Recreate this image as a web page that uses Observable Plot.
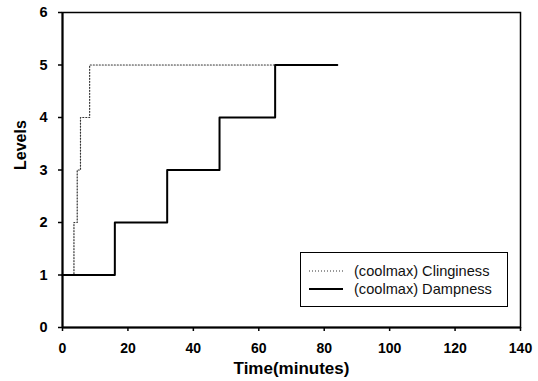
<!DOCTYPE html>
<html><head><meta charset="utf-8">
<script src="https://cdn.jsdelivr.net/npm/d3@7"></script>
<script src="https://cdn.jsdelivr.net/npm/@observablehq/plot@0.6"></script>
<style>
body{margin:0;background:#fff;}
#chart{position:relative;width:538px;height:381px;font-family:"Liberation Sans",Arial,sans-serif;}
#legend{position:absolute;left:300px;top:252px;width:208px;height:55px;border:1.5px solid #000;box-sizing:border-box;background:#fff;font-size:14.6px;color:#111;}
#legend .row{position:absolute;left:8px;display:flex;align-items:center;height:16px;}
#legend svg{margin-right:11px;}
</style></head><body><div id="chart"></div>
<script>
// Step series: time (minutes) at which each level is reached
const clingTime = [3, 3.5, 4.5, 5.5, 8.3, 84];
const clingLevel = [1, 2, 3, 4, 5, 5];
const dampTime = [0, 16, 32, 48, 65, 84];
const dampLevel = [1, 2, 3, 4, 5, 5];
const xTicks = [0, 20, 40, 60, 80, 100, 120, 140];
const yTicks = [0, 1, 2, 3, 4, 5, 6];
const seriesNames = ["(coolmax) Clinginess", "(coolmax) Dampness"];

const cling = clingTime.map((t, i) => ({t, v: clingLevel[i]}));
const damp = dampTime.map((t, i) => ({t, v: dampLevel[i]}));

const chart = Plot.plot({
  width: 538,
  height: 381,
  marginLeft: 62,
  marginRight: 18,
  marginTop: 12,
  marginBottom: 54,
  style: {fontFamily: '"Liberation Sans", Arial, sans-serif', background: "#fff"},
  x: {domain: [0, 140]},
  y: {domain: [0, 6]},
  marks: [
    Plot.frame({stroke: "#000", strokeWidth: 1.5}),
    Plot.ruleX([0], {stroke: "#000", strokeWidth: 2}),
    Plot.ruleY([0], {stroke: "#000", strokeWidth: 2}),
    Plot.axisX({ticks: xTicks, tickFormat: d3.format("d"), tickSize: 4, tickPadding: 12, fontSize: 14, fontWeight: "bold", label: null, stroke: "#000", strokeWidth: 1.5}),
    Plot.axisY({ticks: yTicks, tickFormat: d3.format("d"), tickSize: 4, tickPadding: 11, fontSize: 14.5, fontWeight: "bold", label: null, stroke: "#000", strokeWidth: 1.5}),
    Plot.text(["Time(minutes)"], {frameAnchor: "bottom", dy: 46, fontSize: 17, fontWeight: "bold", fill: "#000"}),
    Plot.text(["Levels"], {frameAnchor: "left", dx: -42, rotate: -90, fontSize: 16, fontWeight: "bold", fill: "#000"}),
    Plot.line(cling, {x: "t", y: "v", curve: "step-after", stroke: "#333", strokeWidth: 1.2, strokeDasharray: "1,2"}),
    Plot.line(damp, {x: "t", y: "v", curve: "step-after", stroke: "#000", strokeWidth: 2})
  ]
});
const root = document.getElementById("chart");
root.appendChild(chart);

// Legend box inside the plot area
const legend = d3.select(root).append("div").attr("id", "legend");
seriesNames.forEach((name, i) => {
  const row = legend.append("div").attr("class", "row").style("top", (i === 0 ? 10 : 28) + "px");
  const sw = row.append("svg").attr("width", 34).attr("height", 4);
  sw.append("line").attr("x1", 0).attr("x2", 34).attr("y1", 2).attr("y2", 2)
    .attr("stroke", i === 0 ? "#333" : "#000")
    .attr("stroke-width", i === 0 ? 1.2 : 2)
    .attr("stroke-dasharray", i === 0 ? "1,2" : null);
  row.append("span").text(name);
});
</script></body></html>
